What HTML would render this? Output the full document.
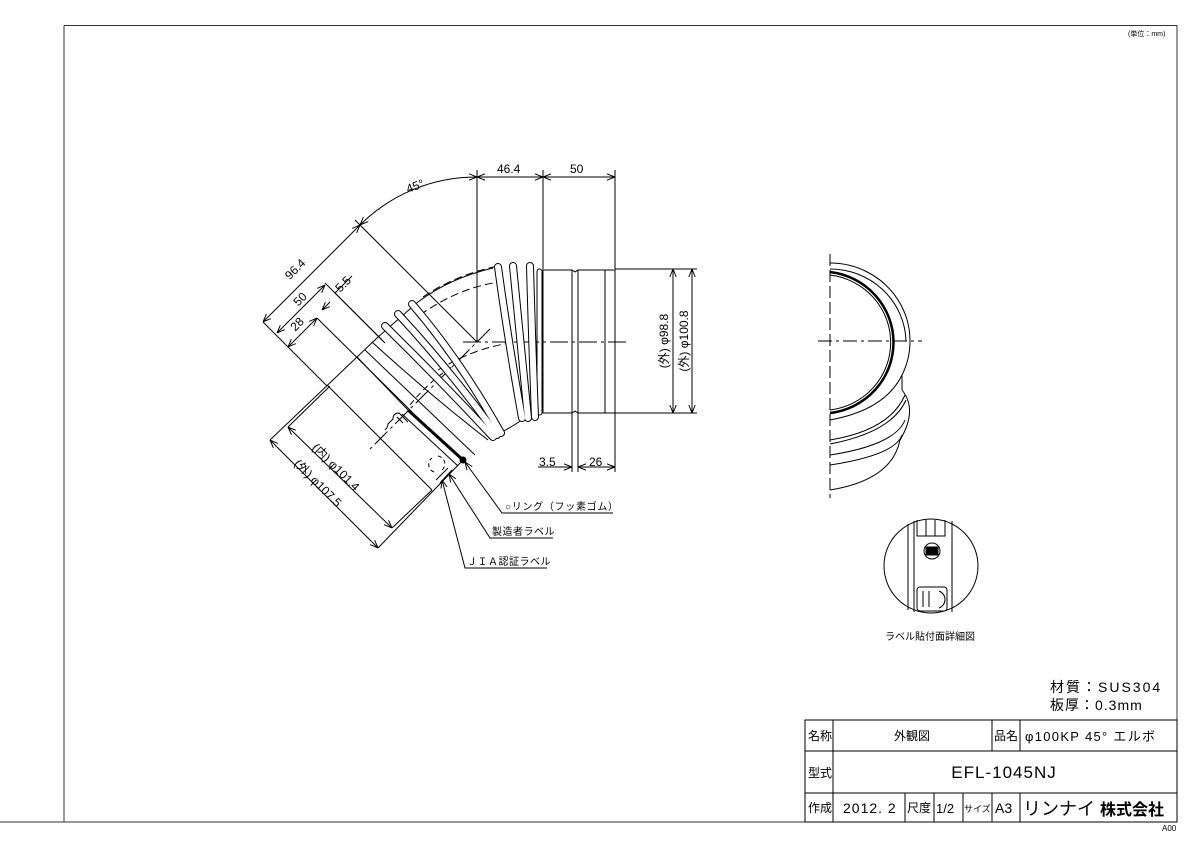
<!DOCTYPE html>
<html><head><meta charset="utf-8"><style>
html,body{margin:0;padding:0;background:#fff;}
svg{display:block;font-family:"Liberation Sans","Noto Sans CJK JP",sans-serif;}
</style></head><body>
<svg width="1200" height="848" viewBox="0 0 1200 848" xmlns="http://www.w3.org/2000/svg">
<defs>
<marker id="a" viewBox="0 0 10 10" refX="10" refY="5" markerWidth="8" markerHeight="8" orient="auto-start-reverse" markerUnits="userSpaceOnUse">
<path d="M0,1 L10,5 L0,9" fill="none" stroke="#000" stroke-width="1.2"/></marker>
</defs>
<rect width="1200" height="848" fill="#fff"/>
<g fill="none" stroke="#000" stroke-width="1">
<path d="M64,25.5 H1177 V822 H0" stroke="#333"/>
<line x1="64" y1="25.5" x2="64" y2="822" stroke="#333"/>
<rect x="805" y="720" width="372" height="102"/>
<line x1="805" y1="751" x2="1177" y2="751"/>
<line x1="805" y1="793" x2="1177" y2="793"/>
<line x1="833" y1="720" x2="833" y2="822"/>
<line x1="992" y1="720" x2="992" y2="751"/>
<line x1="1020" y1="720" x2="1020" y2="751"/>
<line x1="905" y1="793" x2="905" y2="822"/>
<line x1="934" y1="793" x2="934" y2="822"/>
<line x1="963" y1="793" x2="963" y2="822"/>
<line x1="992" y1="793" x2="992" y2="822"/>
<line x1="1020" y1="793" x2="1020" y2="822"/>

<path d="M542,270 H572 L575,272 L578,270 H615 V413 H578 L575,411 L572,413 H542"/>
<line x1="572" y1="270" x2="572" y2="413"/>
<line x1="578" y1="270" x2="578" y2="413"/>
<line x1="605" y1="270" x2="605" y2="413"/>
<line x1="543" y1="270" x2="543" y2="413"/>
<rect x="537" y="269" width="5" height="146" rx="2.5"/>
<line x1="463" y1="342" x2="628" y2="342" stroke-dasharray="18,4,3,4"/>
<line x1="477" y1="170" x2="477" y2="342"/>
<line x1="543" y1="170" x2="543" y2="269"/>
<line x1="615" y1="170" x2="615" y2="269"/>
<line x1="477" y1="177" x2="543" y2="177" marker-start="url(#a)" marker-end="url(#a)"/>
<line x1="543" y1="177" x2="615" y2="177" marker-start="url(#a)" marker-end="url(#a)"/>
<line x1="615" y1="269" x2="697" y2="269"/>
<line x1="615" y1="413" x2="697" y2="413"/>
<line x1="673" y1="269" x2="673" y2="413" marker-start="url(#a)" marker-end="url(#a)"/>
<line x1="692" y1="269" x2="692" y2="413" marker-start="url(#a)" marker-end="url(#a)"/>
<line x1="572" y1="413" x2="572" y2="472"/>
<line x1="578" y1="413" x2="578" y2="472"/>
<line x1="615" y1="413" x2="615" y2="472"/>
<line x1="538" y1="467" x2="572" y2="467" marker-end="url(#a)"/>
<line x1="578" y1="467" x2="615" y2="467" marker-start="url(#a)" marker-end="url(#a)"/>
<line x1="477" y1="342" x2="355" y2="220"/>
<path d="M360,225 A165,165 0 0 1 477,177" marker-start="url(#a)" marker-end="url(#a)"/>
<line x1="490" y1="329" x2="370" y2="449" stroke-dasharray="18,4,3,4"/>

<path d="M418,302 Q450,278 493,268"/>
<path d="M378,337 L418,302"/>
<path d="M420,315 Q455,290 493,283" stroke-dasharray="8,4"/>
<path d="M423,297 Q455,275 498,266" stroke-dasharray="8,4"/>
<path d="M438,370 Q480,345 520,342" stroke-dasharray="8,4"/>
<path d="M410,405 Q430,380 455,365" stroke-dasharray="6,4"/>
<path d="M493,437 Q510,428 522,420"/>
<g stroke-linecap="round">
<path d="M385,326 Q440,380 493,437" stroke-width="8"/>
<path d="M398,314 Q450,370 497,435" stroke-width="8"/>
<path d="M412,304 Q460,360 501,433" stroke-width="8"/>
<path d="M498,267 Q508,340 522,418" stroke-width="8"/>
<path d="M513,266 Q520,340 528,418" stroke-width="8"/>
<path d="M530,266 Q532,340 535,417" stroke-width="8"/>
</g>
<g stroke-linecap="round" stroke="#fff">
<path d="M385,326 Q440,380 493,437" stroke-width="6"/>
<path d="M398,314 Q450,370 497,435" stroke-width="6"/>
<path d="M412,304 Q460,360 501,433" stroke-width="6"/>
<path d="M498,267 Q508,340 522,418" stroke-width="6"/>
<path d="M513,266 Q520,340 528,418" stroke-width="6"/>
<path d="M530,266 Q532,340 535,417" stroke-width="6"/>
</g>
<path d="M372,342 Q430,395 488,440"/>
<path d="M365,350 L475,455"/>

<line x1="378" y1="337" x2="270" y2="440"/>
<line x1="463" y1="460" x2="378" y2="548"/>
<line x1="288" y1="427" x2="330" y2="386"/>
<line x1="392" y1="528" x2="432" y2="490"/>
<line x1="327" y1="385" x2="432" y2="490"/>
<line x1="357" y1="357" x2="408" y2="410"/>
<line x1="408" y1="410" x2="463" y2="460" stroke-width="3"/>
<line x1="402" y1="414" x2="458" y2="466"/>
<circle cx="463" cy="460" r="3" fill="#000"/>
<path d="M385,430 q3,-3 3,-6 l5,-5 q0,-6 6,-6 l4,4 m-6,0 l6,6 m-3,-9 l8,8" />
<path d="M438,456 a8,8 0 0 1 4,14 M434,472 a8,8 0 0 1 -2,-14" stroke-dasharray="4,3"/>
<line x1="448" y1="468" x2="436" y2="480"/>
<line x1="452" y1="470" x2="440" y2="483"/>
<line x1="263" y1="322" x2="327" y2="386"/>
<line x1="263" y1="322" x2="360" y2="225" marker-start="url(#a)" marker-end="url(#a)"/>
<line x1="277" y1="333" x2="325" y2="285" marker-start="url(#a)" marker-end="url(#a)"/>
<line x1="325" y1="283" x2="383" y2="341"/>
<line x1="288" y1="347" x2="317" y2="318" marker-start="url(#a)" marker-end="url(#a)"/>
<line x1="317" y1="318" x2="412" y2="412"/>
<line x1="322" y1="310" x2="330" y2="302" marker-start="url(#a)"/>
<line x1="335" y1="293" x2="352" y2="276"/>
<line x1="335" y1="293" x2="385" y2="343"/>
<line x1="270" y1="440" x2="378" y2="548" marker-start="url(#a)" marker-end="url(#a)"/>
<line x1="288" y1="427" x2="392" y2="528" marker-start="url(#a)" marker-end="url(#a)"/>

<polyline points="465,462 502,513 613,513" marker-start="url(#a)"/>
<polyline points="449,474 490,538 553,538" marker-start="url(#a)"/>
<polyline points="442,480 465,568 547,568" marker-start="url(#a)"/>

<line x1="830" y1="254" x2="830" y2="498" stroke-dasharray="12,4"/>
<line x1="818" y1="341" x2="922" y2="341" stroke-dasharray="14,4,3,4"/>
<path d="M830,263 A80,78 0 0 1 902,375"/>
<path d="M830,269 A76,74 0 0 1 906,341"/>
<path d="M830,272 A72,71 0 0 1 830,413" stroke-width="2.5"/>
<path d="M830,275 A69,68 0 0 1 830,410"/>
<path d="M830,420 Q885,410 902,375 L902,390"/>
<path d="M902,390 Q918,410 900,440"/>
<path d="M830,440 Q890,430 905,395"/>
<path d="M830,444 Q892,432 906,400"/>
<path d="M830,455 Q895,445 905,420"/>
<path d="M830,465 Q895,455 902,435"/>
<path d="M830,490 Q892,480 900,440"/>

<circle cx="931" cy="566" r="47"/>
<line x1="908" y1="524" x2="908" y2="610"/>
<line x1="914" y1="521" x2="914" y2="612"/>
<line x1="952" y1="521" x2="952" y2="612"/>
<polyline points="917,520 917,536 945,536 945,520"/>
<line x1="926" y1="520" x2="926" y2="536"/>
<line x1="935" y1="520" x2="935" y2="536"/>
<circle cx="932" cy="551" r="8"/>
<rect x="926" y="547" width="12" height="8" fill="#000"/>
<rect x="917" y="587" width="30" height="24" rx="3"/>
<line x1="923" y1="591" x2="923" y2="607"/>
<line x1="929" y1="591" x2="929" y2="607"/>
<path d="M939,591 a9,9 0 0 1 0,17"/>
</g>

<g fill="#000" font-size="12">
<text x="1128" y="36" font-size="7">(単位：mm)</text>
<text x="408" y="193" transform="rotate(-20 408 193)">45°</text>
<text x="497" y="173">46.4</text>
<text x="570" y="173">50</text>
<text x="539" y="466">3.5</text>
<text x="589" y="466">26</text>
<text x="668" y="341" text-anchor="middle" transform="rotate(-90 668 341)">(外) φ98.8</text>
<text x="688" y="341" text-anchor="middle" transform="rotate(-90 688 341)">(外) φ100.8</text>
<text x="298" y="272" text-anchor="middle" transform="rotate(-45 298 272)">96.4</text>
<text x="303" y="302" text-anchor="middle" transform="rotate(-45 303 302)">50</text>
<text x="300" y="327" text-anchor="middle" transform="rotate(-45 300 327)">28</text>
<text x="346" y="287" text-anchor="middle" transform="rotate(-45 346 287)">5.5</text>
<text x="333" y="470" text-anchor="middle" transform="rotate(45 333 470)">(内) φ101.4</text>
<text x="315" y="486" text-anchor="middle" transform="rotate(45 315 486)">(外) φ107.5</text>
<text x="505" y="510" font-size="10" letter-spacing="0.7">○リング（フッ素ゴム）</text>
<text x="492" y="535" font-size="10" letter-spacing="0.5">製造者ラベル</text>
<text x="467" y="565" font-size="10" letter-spacing="0.5">ＪＩＡ認証ラベル</text>
<text x="885" y="640" font-size="10">ラベル貼付面詳細図</text>
<text x="1050" y="692" font-size="14" letter-spacing="2">材質：SUS304</text>
<text x="1050" y="710" font-size="14" letter-spacing="1">板厚：0.3mm</text>
<text x="808" y="740" font-size="12">名称</text>
<text x="912" y="740" font-size="12" text-anchor="middle">外観図</text>
<text x="994" y="740" font-size="12">品名</text>
<text x="1025" y="741" font-size="13" letter-spacing="1.3">φ100KP 45° エルボ</text>
<text x="808" y="777" font-size="12">型式</text>
<text x="1004" y="778" font-size="17" text-anchor="middle" letter-spacing="1">EFL-1045NJ</text>
<text x="808" y="812" font-size="12">作成</text>
<text x="843" y="813" font-size="14" letter-spacing="1">2012. 2</text>
<text x="907" y="812" font-size="12">尺度</text>
<text x="936" y="813" font-size="13">1/2</text>
<text x="964" y="812" font-size="9">サイズ</text>
<text x="995" y="813" font-size="14">A3</text>
<text x="1023" y="815" font-size="18">リンナイ</text>
<text x="1100" y="815" font-size="16" font-weight="bold">株式会社</text>
<text x="1162" y="831" font-size="8">A00</text>
</g>
</svg>
</body></html>
